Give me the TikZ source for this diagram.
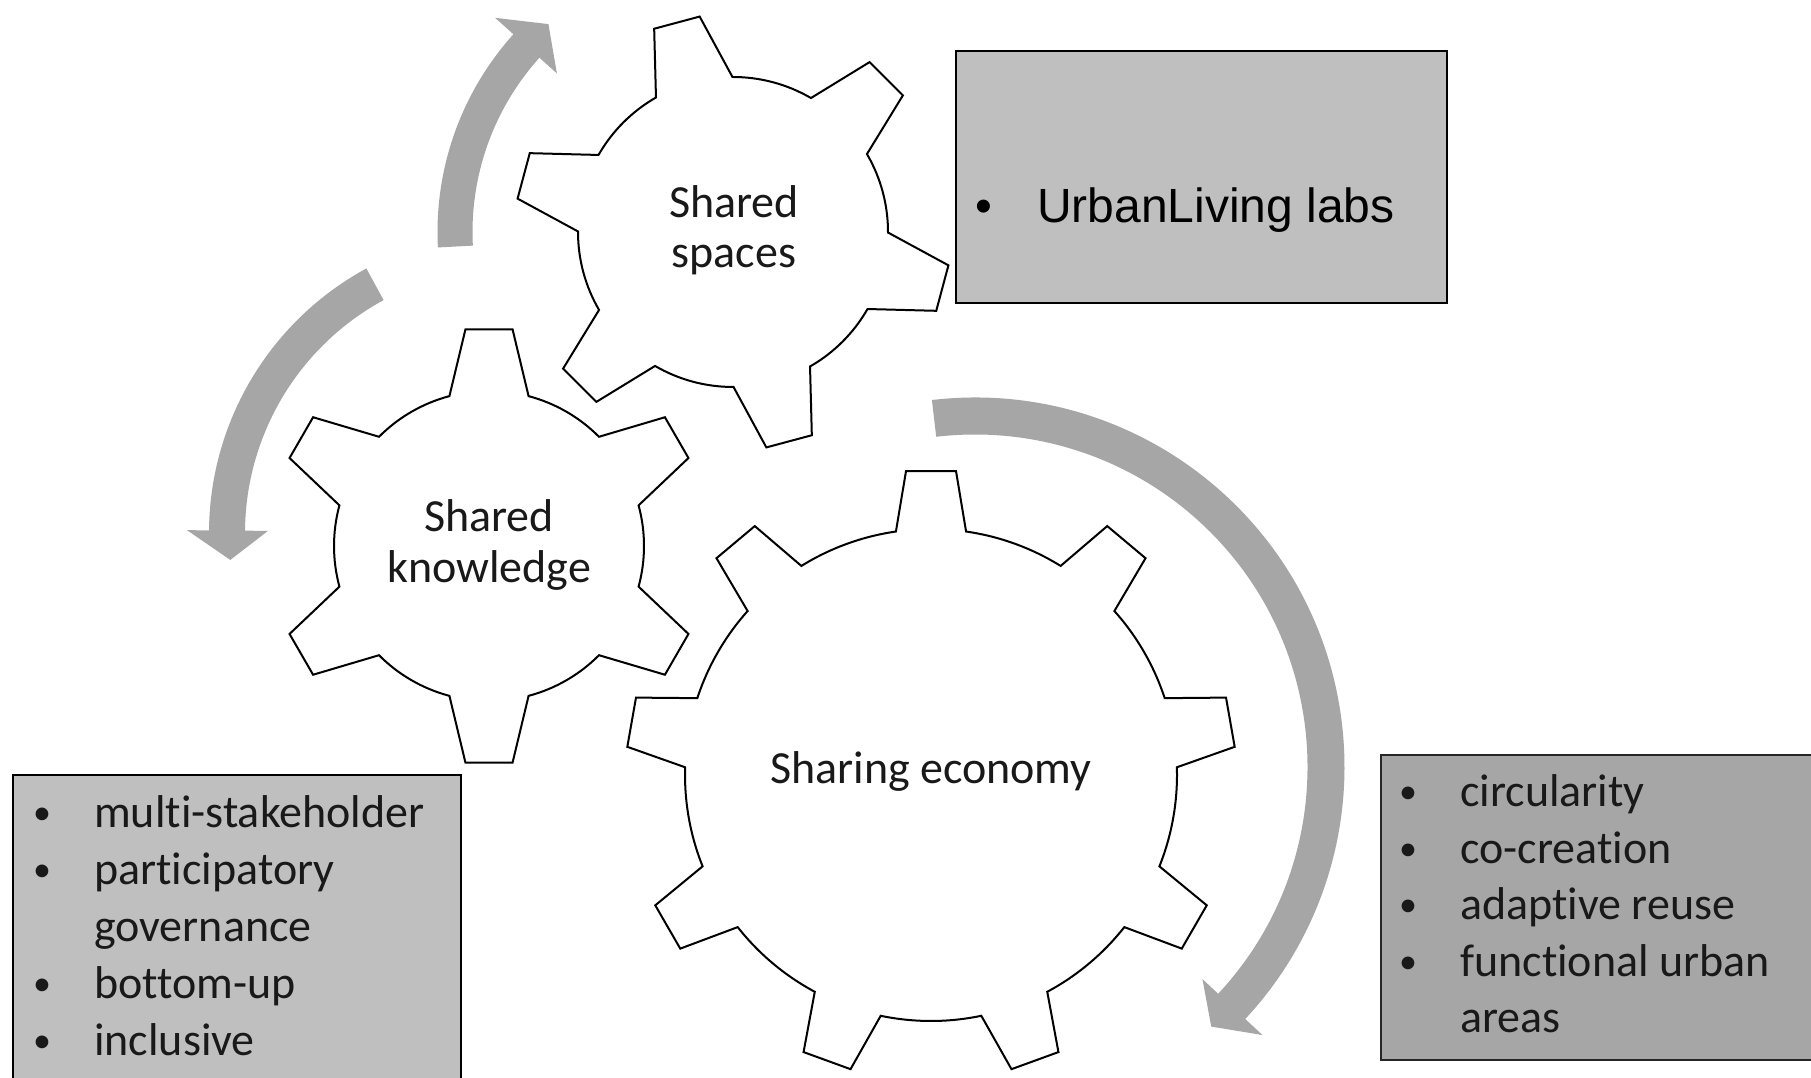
\documentclass[tikz,border=0pt]{standalone}
\usepackage{fontspec}
\newfontfamily\carl[Ligatures={NoCommon}]{Carlito}
\newfontfamily\arialf{Liberation Sans}
\definecolor{arrowgray}{HTML}{A6A6A6}
\definecolor{boxlight}{HTML}{BFBFBF}
\definecolor{boxdark}{HTML}{A6A6A6}
\newcommand{\drawgear}[8]{% cx, cy, N, theta0, R, r, alpha, beta
  \begin{scope}[shift={(#1,#2)}]
    \draw[gearline] ({#4-#8}:#6pt)
      \foreach \k [evaluate=\k as \ta using #4+(\k-1)*360/#3] in {1,...,#3} {
        -- ({\ta-#7}:#5pt) -- ({\ta+#7}:#5pt) -- ({\ta+#8}:#6pt)
        arc[start angle={\ta+#8}, end angle={\ta+360/#3-#8}, radius=#6pt]
      } -- cycle;
  \end{scope}}
\tikzset{
  gearline/.style={draw=black, line width=2pt, fill=white, line join=miter},
  gtext/.style={font=\carl\fontsize{46}{51}\selectfont, inner sep=0pt, text=black!90},
  ltext/.style={font=\carl\fontsize{46}{56}\selectfont, inner sep=0pt, anchor=base west, text=black!90},
  lbul/.style={font=\carl\fontsize{36}{44}\selectfont, inner sep=0pt, anchor=base, yshift=3pt, text=black!90},
  boxa/.style={draw=black, line width=1.8pt, fill=boxlight},
  boxb/.style={draw=black!85, line width=1.8pt, fill=boxdark},
  arr/.style={fill=arrowgray, draw=none}
}
\begin{document}
\begin{tikzpicture}[x=1pt,y=1pt]
\useasboundingbox (0,0) rectangle (1811,1078);
\fill[white] (0,0) rectangle (1811,1078);
\clip (0,0) rectangle (1811,1078);

% arrows
\begin{scope}[shift={(733,846)}]
  \fill[arr] (183:295.5pt) arc[start angle=183, end angle=138, radius=295.5pt]
    -- (138:320pt) -- (131.6:278pt) -- (138:237pt) -- (138:260.5pt)
    arc[start angle=138, end angle=183, radius=260.5pt] -- cycle;
\end{scope}
\begin{scope}[shift={(510,545)}]
  \fill[arr] (118.5:301pt) arc[start angle=118.5, end angle=179.5, radius=301pt]
    -- (179.5:323pt) -- (185.5:281pt) -- (179.5:242pt) -- (179.5:265pt)
    arc[start angle=179.5, end angle=118.5, radius=265pt] -- cycle;
\end{scope}
\begin{scope}[shift={(975,311)}]
  \fill[arr] (96.7:369.5pt) arc[start angle=96.7, end angle=-43, radius=369.5pt]
    -- (-43:393pt) -- (-47.7:351pt) -- (-43:311pt) -- (-43:332.5pt)
    arc[start angle=-43, end angle=96.7, radius=332.5pt] -- cycle;
\end{scope}

% gears
\drawgear{733}{846}{6}{105}{218}{155}{6.2}{14.8}
\drawgear{489}{532}{6}{90}{218}{155}{6.2}{14.8}
\drawgear{931}{303}{9}{90}{305}{246}{4.7}{8.2}

\node[gtext, anchor=base] (g1a) at (734,860) {Shared};
\node[gtext, anchor=base] (g1b) at (734,810) {spaces};
\node[gtext, anchor=base] (g2a) at (489,546) {Shared};
\node[gtext, anchor=base] (g2b) at (489,495) {knowledge};
\node[gtext, anchor=base] (g3) at (931,294) {Sharing economy};

% boxes
\draw[boxa] (956,775) rectangle (1447,1027);
\node[font=\arialf\fontsize{48}{58}\selectfont, inner sep=0pt, anchor=base] (b1b) at (984,855) {•};
\node[font=\arialf\fontsize{48}{58}\selectfont, inner sep=0pt, anchor=base west] (b1t) at (1037,855) {UrbanLiving labs};

\draw[boxa] (13,-20) rectangle (461,303);
\node[lbul] (b2b1) at (42,250) {•};
\node[ltext] (b2t1) at (94,250) {multi-stakeholder};
\node[lbul] (b2b2) at (42,193.2) {•};
\node[ltext] (b2t2) at (94,193.2) {participatory};
\node[ltext] (b2t3) at (94,136.4) {governance};
\node[lbul] (b2b4) at (42,79.6) {•};
\node[ltext] (b2t4) at (94,79.6) {bottom-up};
\node[lbul] (b2b5) at (42,22.8) {•};
\node[ltext] (b2t5) at (94,22.8) {inclusive};

\draw[boxb] (1381,18) rectangle (1830,323);
\node[lbul] (b3b1) at (1408,271) {•};
\node[ltext] (b3t1) at (1460,271) {circularity};
\node[lbul] (b3b2) at (1408,214.5) {•};
\node[ltext] (b3t2) at (1460,214.5) {co-creation};
\node[lbul] (b3b3) at (1408,158) {•};
\node[ltext] (b3t3) at (1460,158) {adaptive reuse};
\node[lbul] (b3b4) at (1408,101.5) {•};
\node[ltext] (b3t4) at (1460,101.5) {functional urban};
\node[ltext] (b3t5) at (1460,45) {areas};
\end{tikzpicture}
\end{document}
